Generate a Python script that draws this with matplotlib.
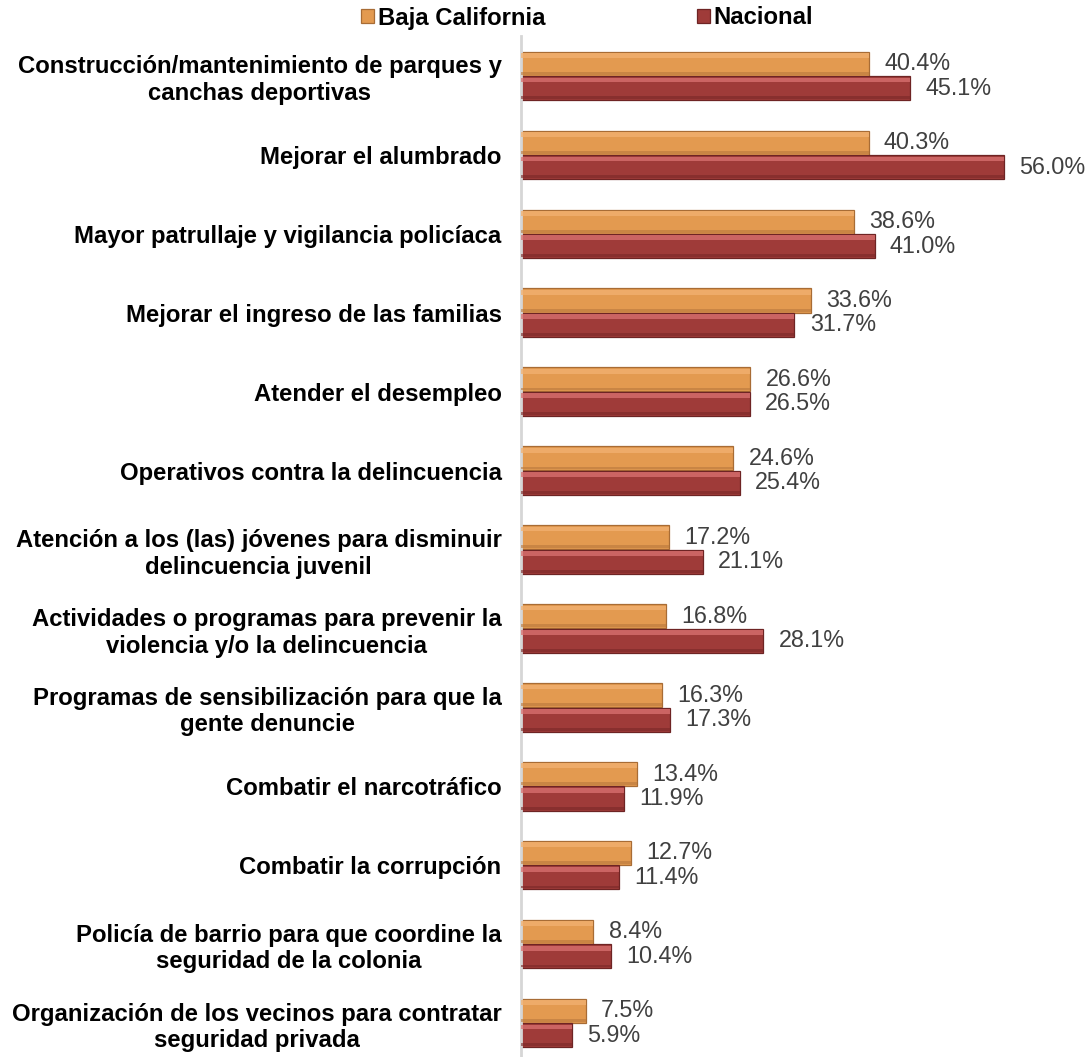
import matplotlib
matplotlib.use("Agg")
import matplotlib.pyplot as plt
import numpy as np

categories = [
    "Construcción/mantenimiento de parques y\ncanchas deportivas",
    "Mejorar el alumbrado",
    "Mayor patrullaje y vigilancia policíaca",
    "Mejorar el ingreso de las familias",
    "Atender el desempleo",
    "Operativos contra la delincuencia",
    "Atención a los (las) jóvenes para disminuir\ndelincuencia juvenil",
    "Actividades o programas para prevenir la\nviolencia y/o la delincuencia",
    "Programas de sensibilización para que la\ngente denuncie",
    "Combatir el narcotráfico",
    "Combatir la corrupción",
    "Policía de barrio para que coordine la\nseguridad de la colonia",
    "Organización de los vecinos para contratar\nseguridad privada",
]
baja_california = [40.4, 40.3, 38.6, 33.6, 26.6, 24.6, 17.2, 16.8, 16.3, 13.4, 12.7, 8.4, 7.5]
nacional = [45.1, 56.0, 41.0, 31.7, 26.5, 25.4, 21.1, 28.1, 17.3, 11.9, 11.4, 10.4, 5.9]
series_names = ["Baja California", "Nacional"]

plt.rcParams['font.family'] = ['Liberation Sans', 'DejaVu Sans']

W, H = 1089, 1057
fig = plt.figure(figsize=(W / 100, H / 100), dpi=100)
ax_left = 521 / W
ax_right = 1038.5 / W
ax_top = 1 - 36.5 / H
ax_bot = -5.5 / H
ax = fig.add_axes([ax_left, ax_bot, ax_right - ax_left, ax_top - ax_bot])

n = len(categories)
y = np.arange(n)
bh = 0.305
off = 0.155

styles = [
    dict(main="#E39A50", light="#F3B272", dark="#B8783C", edge="#A86C35"),
    dict(main="#9F3B39", light="#DA7272", dark="#7A2828", edge="#6E2424"),
]

for vals, sgn, st, name in [(baja_california, -1, styles[0], series_names[0]),
                            (nacional, 1, styles[1], series_names[1])]:
    yc = y + sgn * off
    ax.barh(yc, vals, height=bh, color=st["main"], edgecolor=st["edge"],
            linewidth=0.9, label=name, zorder=2)
    # soft bevel: highlight near top, shadow near bottom
    ax.barh(yc - bh * 0.34, vals, height=bh * 0.2, color=st["light"],
            linewidth=0, zorder=3, alpha=0.75)
    ax.barh(yc + bh * 0.40, vals, height=bh * 0.12, color=st["dark"],
            linewidth=0, zorder=3, alpha=0.6)
    for yy, v in zip(yc, vals):
        ax.annotate(f"{v:.1f}%", xy=(v, yy), xytext=(11, 0),
                    textcoords="offset points", ha="left", va="center",
                    fontsize=16.8, color="#404040")

ax.set_xlim(0, 60)
ax.set_ylim(n - 0.5, -0.5)
ax.set_yticks(y)
ax.set_yticklabels(categories, fontsize=17.2, fontweight="bold",
                   linespacing=1.2, ha="right", multialignment="center")
ax.tick_params(axis="y", length=0, pad=14)
ax.set_xticks([])
for s in ["top", "right", "bottom"]:
    ax.spines[s].set_visible(False)
ax.spines["left"].set_color("#D6D6D6")
ax.spines["left"].set_linewidth(2)
ax.set_facecolor("none")

handles, labels = ax.get_legend_handles_labels()
leg = fig.legend(handles[:2], labels[:2], loc="center", ncol=2,
                 bbox_to_anchor=(587 / W, 1 - 18 / H), frameon=False,
                 prop=dict(family=['Liberation Sans', 'DejaVu Sans'], weight="bold", size=17.2),
                 handlelength=0.55, handleheight=0.55, handletextpad=0.15,
                 columnspacing=6.35, borderpad=0)

fig.savefig("out.png", dpi=100)
